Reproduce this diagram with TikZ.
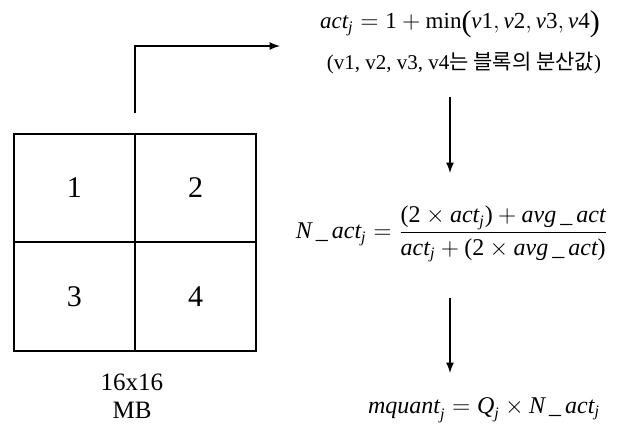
\documentclass[tikz,border=0pt]{standalone}
\usepackage{amsmath}
\usepackage{fontspec}
\setmainfont{Liberation Serif}
\newfontfamily\kofont{Noto Sans CJK KR}
\usetikzlibrary{positioning}
\newcommand{\iv}[1]{\text{\itshape #1}}
\newcommand{\ul}{\,\text{\_}\,}
\newcommand{\bigpar}[1]{\text{\fontsize{15}{15}\selectfont\raisebox{-1.2pt}{#1}}}

\begin{document}
\begin{tikzpicture}[x=0.5pt, y=-0.5pt, >=latex,
  cell/.style={draw, line width=1pt, outer sep=0pt, inner sep=0pt,
    minimum width=60.5pt, minimum height=54.25pt, font=\fontsize{15}{18}\selectfont},
  flow/.style={->, line width=0.8pt},
  eq/.style={inner sep=0pt, font=\fontsize{12}{14}\selectfont}]
  \useasboundingbox (0,0) rectangle (622,429);

  % Macroblock 16x16
  \node[cell] (c1) at (74.5,188) {1};
  \node[cell, right=0pt of c1] (c2) {2};
  \node[cell, below=0pt of c1] (c3) {3};
  \node[cell, right=0pt of c3] (c4) {4};
  \node[align=center, font=\fontsize{12.5}{14}\selectfont] (mb) at (132,396) {16x16\\MB};

  % Formulas
  \node[eq, font=\fontsize{11.5}{13}\selectfont] (act) at (460,24) {$\iv{act}_{\iv{j}} = \text{1} + \text{min}\bigpar{(}\iv{v}\text{1}, \iv{v}\text{2}, \iv{v}\text{3}, \iv{v}\text{4}\bigpar{)}$};
  \node[eq, font=\fontsize{10.5}{12}\selectfont] (var) at (464,63) {(v1, v2, v3, v4{\kofont 는 블록의 분산값})};
  \node[eq] (nact) at (452,234) {$\iv{N}\ul\iv{act}_{\iv{j}} = \dfrac{\text{(2}\times\iv{act}_{\iv{j}}\text{)} + \iv{avg}\ul\iv{act}}{\iv{act}_{\iv{j}} + \text{(2}\times\iv{avg}\ul\iv{act}\text{)}}$};
  \node[eq] (mq) at (484,410) {$\iv{mquant}_{\iv{j}} = \iv{Q}_{\iv{j}} \times \iv{N}\ul\iv{act}_{\iv{j}}$};

  % Arrows
  \coordinate (t1) at (280,46);
  \coordinate (a1) at (450,97);
  \coordinate (b1) at (450,173);
  \coordinate (a2) at (450,298);
  \coordinate (b2) at (450,373);
  \draw[flow] ([yshift=10.5pt]c1.north east) |- (t1);
  \draw[flow] (a1) -- (b1);
  \draw[flow] (a2) -- (b2);
\end{tikzpicture}
\end{document}
